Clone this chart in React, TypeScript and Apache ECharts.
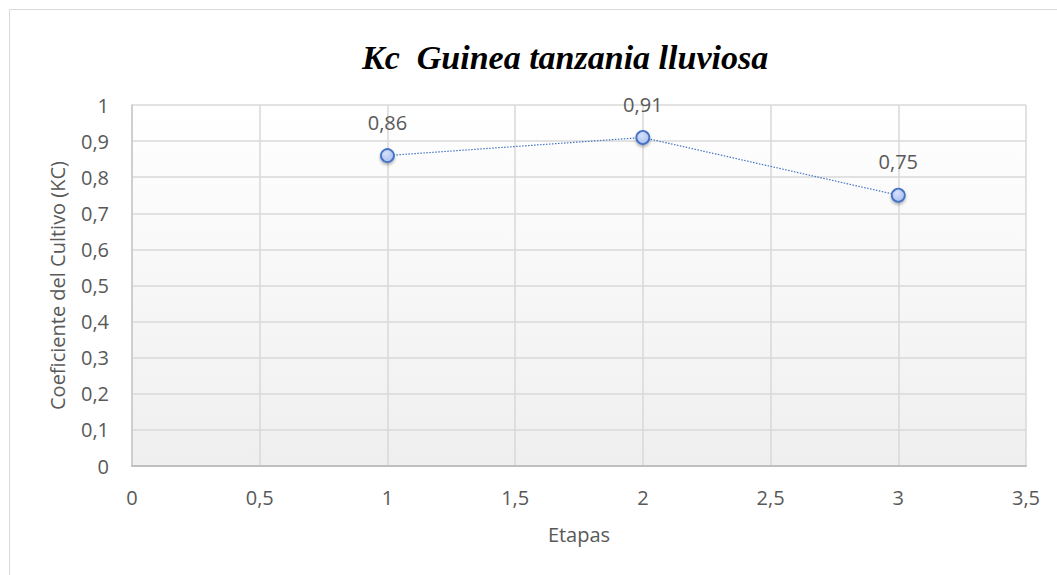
import React, { useEffect, useRef } from "react";
import * as echarts from "echarts";

const titleText = "Kc  Guinea tanzania lluviosa";
const xAxisName = "Etapas";
const yAxisName = "Coeficiente del Cultivo (KC)";
const etapas = [1, 2, 3];
const kcValues = [0.86, 0.91, 0.75];

const fmt = (v: number) => String(v).replace(".", ",");

export default function App() {
  const ref = useRef<HTMLDivElement>(null);
  useEffect(() => {
    document.body.style.margin = "0";
    const chart = echarts.init(ref.current!, null, { renderer: "svg" });
    const font = "'Open Sans', 'Noto Sans', sans-serif";
    chart.setOption({
      animation: false,
      backgroundColor: "#ffffff",
      title: {
        text: titleText,
        left: 357,
        top: 35,
        textStyle: {
          fontFamily: "'Liberation Serif', 'DejaVu Serif', serif",
          fontStyle: "italic",
          fontWeight: "bold",
          fontSize: 34,
          color: "#000000",
        },
      },
      graphic: [
        {
          type: "rect",
          shape: { x: 9.5, y: 9.5, width: 1200, height: 700 },
          style: { fill: "none", stroke: "#d9d9d9", lineWidth: 1 },
          silent: true,
        },
      ],
      grid: {
        left: 132,
        top: 105,
        right: 31,
        bottom: 109,
        show: true,
        borderWidth: 0,
        backgroundColor: new echarts.graphic.LinearGradient(0, 0, 0, 1, [
          { offset: 0, color: "#ffffff" },
          { offset: 1, color: "#efefef" },
        ]),
      },
      xAxis: {
        type: "value",
        min: 0,
        max: 3.5,
        interval: 0.5,
        name: xAxisName,
        nameLocation: "middle",
        nameGap: 58,
        nameTextStyle: { fontFamily: font, fontSize: 20, color: "#595959" },
        axisLine: { show: true, onZero: false, lineStyle: { color: "#bfbfbf", width: 2 } },
        axisTick: { show: false },
        axisLabel: {
          formatter: (v: number) => fmt(v),
          fontFamily: font,
          fontSize: 20,
          color: "#595959",
          margin: 21,
        },
        splitLine: { show: true, lineStyle: { color: "#d9d9d9", width: 1.5 } },
      },
      yAxis: {
        type: "value",
        min: 0,
        max: 1,
        interval: 0.1,
        name: yAxisName,
        nameLocation: "middle",
        nameGap: 65,
        nameTextStyle: { fontFamily: font, fontSize: 20, color: "#595959" },
        axisLine: { show: true, lineStyle: { color: "#c8c8c8", width: 1.5 } },
        axisTick: { show: false },
        axisLabel: {
          formatter: (v: number) => fmt(Math.round(v * 10) / 10),
          fontFamily: font,
          fontSize: 20,
          color: "#595959",
          margin: 23,
        },
        splitLine: { show: true, lineStyle: { color: "#d9d9d9", width: 1.5 } },
      },
      series: [
        {
          type: "line",
          data: etapas.map((x, i) => [x, kcValues[i]]),
          symbol: "circle",
          symbolSize: 13,
          lineStyle: { color: "#4472c4", width: 1.2, type: [1.5, 1.5] },
          itemStyle: {
            color: new echarts.graphic.RadialGradient(0.4, 0.35, 0.7, [
              { offset: 0, color: "#d6e1fa" },
              { offset: 1, color: "#a8bdf0" },
            ]),
            borderColor: "#4472c4",
            borderWidth: 1.8,
            shadowColor: "rgba(0,0,0,0.3)",
            shadowBlur: 3,
            shadowOffsetY: 2,
          },
          label: {
            show: true,
            position: "top",
            distance: 16,
            formatter: (p: any) => fmt(p.value[1]),
            fontFamily: font,
            fontSize: 20,
            color: "#595959",
          },
        },
      ],
    });
    return () => chart.dispose();
  }, []);
  return (
    <div
      ref={ref}
      style={{ position: "fixed", left: 0, top: 0, width: 1057, height: 575 }}
    />
  );
}
